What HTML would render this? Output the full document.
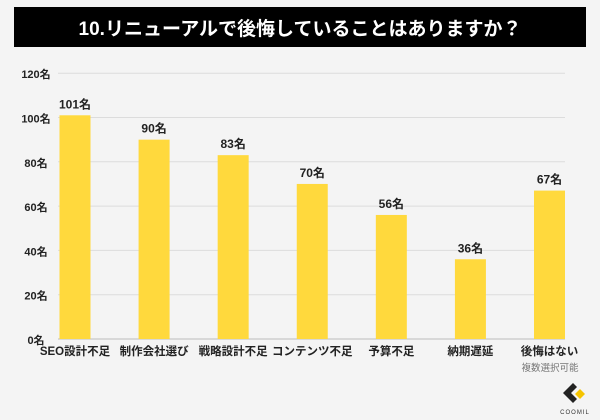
<!DOCTYPE html>
<html><head><meta charset="utf-8"><style>
body{margin:0;background:#f4f4f4;font-family:"Liberation Sans","Noto Sans CJK JP",sans-serif;}
#c{position:relative;width:600px;height:420px;overflow:hidden;background:#f4f4f4}
</style></head><body>
<div id="c">
<svg id="s" width="600" height="420">
<rect x="14" y="7" width="572" height="40" fill="#000"/>
<text x="300" y="35" text-anchor="middle" fill="#fff" font-size="19" font-weight="bold" font-family="Liberation Sans, Noto Sans CJK JP, sans-serif">10.リニューアルで後悔していることはありますか？</text>
<text x="550" y="371" text-anchor="middle" fill="#777" font-size="9.5" font-family="Liberation Sans, Noto Sans CJK JP, sans-serif">複数選択可能</text>
<g>
<polygon points="573,383 563,393 573,403 577,399 571,393 577,387" fill="#222"/>
<polygon points="580,389 585,394 580,399 575,394" fill="#f5c400"/>
<text x="575" y="414" text-anchor="middle" font-size="6" fill="#333" letter-spacing="1">COOMIL</text>
</g>
</svg>
</div>
<script>
const categories=["SEO設計不足","制作会社選び","戦略設計不足","コンテンツ不足","予算不足","納期遅延","後悔はない"];
const values=[101,90,83,70,56,36,67];
const ticks=[0,20,40,60,80,100,120];
const svg=document.getElementById('s');
const NS='http://www.w3.org/2000/svg';
const y0=339,pxPer=2.215,x0=58,x1=565;
function y(v){return y0-v*pxPer;}
function xc(i){return 75+i*(549.5-75)/(categories.length-1);}
function mk(t,a){const e=document.createElementNS(NS,t);for(const k in a)e.setAttribute(k,a[k]);svg.appendChild(e);return e;}
ticks.forEach(t=>{
 if(t>0){const l=mk('line',{x1:x0,x2:x1,y1:y(t),y2:y(t),stroke:'#dcdcdc','stroke-width':1});
 
 }
 const tx=mk('text',{x:36,y:y(t)+5,'text-anchor':'middle','font-size':11,'font-weight':'bold',fill:'#222'});
 tx.textContent=t+'名';
 
 
});
const ax=mk('line',{x1:x0,x2:x1,y1:y0,y2:y0,stroke:'#bbb','stroke-width':1});


categories.forEach((c,i)=>{
 const v=values[i],w=31;
 const r=mk('rect',{x:xc(i)-w/2,y:y(v),width:w,height:y0-y(v),fill:'#ffd93d'});
 
 
 const lb=mk('text',{x:xc(i),y:y(v)-7,'text-anchor':'middle','font-size':12,'font-weight':'bold',fill:'#222'});
 lb.textContent=v+'名';
 
 
 const cl=mk('text',{x:xc(i),y:355,'text-anchor':'middle','font-size':11.5,'font-weight':'bold',fill:'#222'});
 cl.textContent=c;
 
 
});
</script>
</body></html>
